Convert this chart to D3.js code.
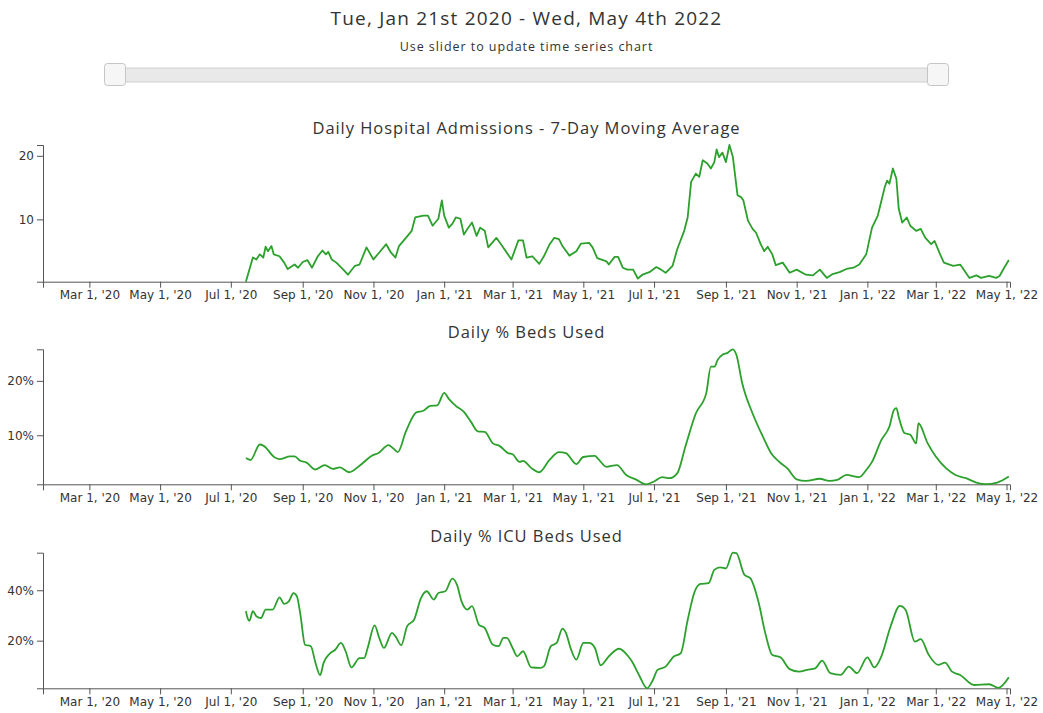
<!DOCTYPE html>
<html>
<head>
<meta charset="utf-8">
<script src="https://cdn.jsdelivr.net/npm/d3@7"></script>
<style>
  html, body { margin: 0; padding: 0; background: #fff; }
  svg { display: block; }
</style>
</head>
<body>
<svg id="chart" width="1043" height="713"></svg>
<script>
// ---------------- DATA ----------------
const headerText = "Tue, Jan 21st 2020 - Wed, May 4th 2022";
const subText = "Use slider to update time series chart";
const domainStart = "2020-01-21";
const domainEnd = "2022-05-04";
const chartTitles = ["Daily Hospital Admissions - 7-Day Moving Average", "Daily % Beds Used", "Daily % ICU Beds Used"];

const admDates = ["2020-07-14","2020-07-20","2020-07-23","2020-07-26","2020-07-29","2020-07-31","2020-08-02","2020-08-05","2020-08-07","2020-08-12","2020-08-16","2020-08-19","2020-08-25","2020-08-28","2020-09-01","2020-09-05","2020-09-09","2020-09-14","2020-09-18","2020-09-21","2020-09-23","2020-09-26","2020-09-30","2020-10-06","2020-10-10","2020-10-16","2020-10-20","2020-10-26","2020-11-01","2020-11-06","2020-11-12","2020-11-16","2020-11-20","2020-11-23","2020-11-29","2020-12-04","2020-12-07","2020-12-14","2020-12-18","2020-12-22","2020-12-27","2020-12-30","2021-01-01","2021-01-05","2021-01-08","2021-01-11","2021-01-15","2021-01-18","2021-01-21","2021-01-25","2021-01-29","2021-02-01","2021-02-05","2021-02-08","2021-02-15","2021-02-19","2021-02-28","2021-03-06","2021-03-10","2021-03-13","2021-03-18","2021-03-24","2021-03-28","2021-04-02","2021-04-06","2021-04-10","2021-04-13","2021-04-19","2021-04-25","2021-04-29","2021-05-06","2021-05-09","2021-05-13","2021-05-21","2021-05-23","2021-05-28","2021-05-31","2021-06-04","2021-06-08","2021-06-13","2021-06-17","2021-06-21","2021-06-27","2021-07-03","2021-07-07","2021-07-11","2021-07-17","2021-07-21","2021-07-27","2021-07-30","2021-08-02","2021-08-06","2021-08-09","2021-08-12","2021-08-16","2021-08-19","2021-08-22","2021-08-24","2021-08-26","2021-08-29","2021-09-01","2021-09-04","2021-09-07","2021-09-11","2021-09-14","2021-09-16","2021-09-20","2021-09-24","2021-09-27","2021-10-01","2021-10-04","2021-10-07","2021-10-11","2021-10-14","2021-10-20","2021-10-26","2021-11-01","2021-11-09","2021-11-15","2021-11-21","2021-11-27","2021-12-02","2021-12-08","2021-12-14","2021-12-20","2021-12-25","2021-12-31","2022-01-05","2022-01-10","2022-01-16","2022-01-18","2022-01-20","2022-01-23","2022-01-26","2022-01-28","2022-01-31","2022-02-04","2022-02-07","2022-02-12","2022-02-16","2022-02-20","2022-02-25","2022-02-28","2022-03-04","2022-03-08","2022-03-16","2022-03-22","2022-03-24","2022-03-30","2022-04-05","2022-04-09","2022-04-16","2022-04-22","2022-04-25","2022-04-29","2022-05-03"];
const admValues = [0.2,4.0,3.7,4.5,4.0,5.7,5.0,5.8,4.5,4.2,3.2,2.2,2.9,2.4,3.3,3.6,2.4,4.2,5.1,4.5,4.9,3.7,3.2,2.1,1.3,2.7,2.9,5.6,3.7,4.8,6.1,4.8,4.0,5.8,7.1,8.2,10.3,10.6,10.6,9.0,10.1,13.0,10.6,8.7,9.3,10.3,10.1,7.6,8.5,9.5,7.4,8.7,8.2,5.6,7.1,6.1,3.7,6.7,6.7,4.0,4.2,3.0,4.2,6.1,7.1,6.9,5.8,4.3,5.0,6.2,6.3,5.6,3.9,3.4,2.9,4.1,4.1,2.4,2.1,2.1,0.7,1.3,1.7,2.5,2.1,1.6,2.7,5.3,8.2,10.3,15.9,17.2,16.7,19.3,18.8,18.0,19.0,21.0,19.8,20.5,19.0,21.7,19.8,13.8,13.5,13.0,9.8,8.5,7.9,6.1,5.0,5.7,4.5,2.8,3.2,1.6,2.1,1.3,1.2,2.1,0.8,1.4,1.7,2.2,2.4,2.9,4.5,8.7,10.6,15.1,16.1,15.6,18.0,16.4,11.7,9.5,10.3,9.0,8.2,8.5,7.1,6.1,6.6,4.8,3.2,2.7,2.9,2.4,0.8,1.2,0.8,1.1,0.8,1.1,2.4,3.6];

const bedDates = ["2020-07-14","2020-07-18","2020-07-26","2020-07-29","2020-08-08","2020-08-12","2020-08-21","2020-08-25","2020-08-30","2020-09-04","2020-09-12","2020-09-20","2020-09-27","2020-10-03","2020-10-11","2020-10-20","2020-11-01","2020-11-05","2020-11-14","2020-11-18","2020-11-22","2020-11-29","2020-12-08","2020-12-14","2020-12-20","2020-12-26","2021-01-01","2021-01-05","2021-01-11","2021-01-18","2021-01-24","2021-01-30","2021-02-05","2021-02-12","2021-02-18","2021-02-25","2021-03-01","2021-03-07","2021-03-10","2021-03-17","2021-03-24","2021-04-02","2021-04-10","2021-04-16","2021-04-25","2021-05-01","2021-05-11","2021-05-14","2021-05-21","2021-05-30","2021-06-07","2021-06-16","2021-06-24","2021-07-01","2021-07-08","2021-07-14","2021-07-21","2021-07-28","2021-08-06","2021-08-15","2021-08-19","2021-08-22","2021-08-25","2021-08-29","2021-09-02","2021-09-07","2021-09-10","2021-09-15","2021-09-24","2021-10-03","2021-10-10","2021-10-17","2021-10-24","2021-11-01","2021-11-09","2021-11-21","2021-11-29","2021-12-06","2021-12-14","2021-12-25","2021-12-31","2022-01-05","2022-01-13","2022-01-20","2022-01-24","2022-01-26","2022-01-28","2022-02-02","2022-02-07","2022-02-12","2022-02-14","2022-02-22","2022-03-01","2022-03-10","2022-03-18","2022-03-27","2022-04-05","2022-04-13","2022-04-23","2022-05-03"];
const bedValues = [5.8,5.45,8.3,8.1,5.9,5.6,6.1,6.1,5.3,5.0,3.7,4.5,3.8,4.1,3.2,4.4,6.4,6.7,8.2,7.6,6.9,10.7,14.2,14.5,15.4,15.5,17.8,16.7,15.4,14.3,12.5,10.7,10.6,8.5,8.0,6.7,6.5,5.1,5.3,4.0,3.2,5.5,6.9,6.7,4.7,6.0,6.2,5.6,4.2,4.5,2.7,1.8,0.98,1.5,2.3,2.1,3.0,7.9,14.0,17.7,22.6,22.6,23.9,24.8,25.1,25.8,24.8,19.6,14.0,9.7,6.7,5.1,3.9,1.9,1.6,2.0,1.6,1.8,2.7,2.3,3.6,5.1,9.1,11.6,14.7,15.0,13.4,10.4,10.1,8.5,12.2,8.5,6.1,3.9,2.7,2.1,1.3,1.0,1.3,2.4];

const icuDates = ["2020-07-14","2020-07-15","2020-07-17","2020-07-20","2020-07-23","2020-07-27","2020-07-31","2020-08-06","2020-08-12","2020-08-16","2020-08-20","2020-08-24","2020-08-27","2020-08-30","2020-09-03","2020-09-08","2020-09-12","2020-09-16","2020-09-19","2020-09-24","2020-09-29","2020-10-04","2020-10-08","2020-10-13","2020-10-20","2020-10-24","2020-10-27","2020-11-02","2020-11-06","2020-11-10","2020-11-17","2020-11-20","2020-11-25","2020-11-30","2020-12-06","2020-12-12","2020-12-17","2020-12-23","2020-12-27","2021-01-02","2021-01-08","2021-01-12","2021-01-16","2021-01-21","2021-01-25","2021-01-31","2021-02-05","2021-02-12","2021-02-17","2021-02-21","2021-02-24","2021-03-01","2021-03-05","2021-03-10","2021-03-17","2021-03-25","2021-03-28","2021-04-03","2021-04-08","2021-04-13","2021-04-16","2021-04-20","2021-04-25","2021-05-01","2021-05-06","2021-05-11","2021-05-16","2021-05-23","2021-06-01","2021-06-08","2021-06-12","2021-06-18","2021-06-25","2021-06-30","2021-07-04","2021-07-11","2021-07-18","2021-07-24","2021-07-30","2021-08-05","2021-08-10","2021-08-17","2021-08-22","2021-08-27","2021-09-01","2021-09-07","2021-09-10","2021-09-17","2021-09-22","2021-09-29","2021-10-05","2021-10-11","2021-10-18","2021-10-26","2021-11-03","2021-11-10","2021-11-17","2021-11-23","2021-11-30","2021-12-09","2021-12-16","2021-12-23","2022-01-01","2022-01-07","2022-01-13","2022-01-21","2022-01-29","2022-02-03","2022-02-11","2022-02-16","2022-02-23","2022-03-03","2022-03-09","2022-03-15","2022-03-22","2022-04-03","2022-04-16","2022-04-24","2022-05-03"];
const icuValues = [31.7,29.7,27.9,31.7,29.7,29.0,32.3,32.3,37.2,34.6,35.6,38.9,37.6,30.3,18.4,17.8,11.2,6.3,11.2,14.7,16.4,19.1,15.8,9.4,13.1,13.1,17.1,26.1,21.1,17.1,23.1,21.7,18.2,25.7,28.3,36.9,39.6,36.3,38.9,39.6,44.6,42.2,35.6,32.3,33.7,26.3,25.0,18.4,17.8,21.1,21.1,17.1,13.8,15.8,9.4,9.2,9.8,17.8,19.1,24.8,23.1,17.1,12.5,19.1,19.1,17.1,10.2,13.8,16.8,14.2,11.7,6.4,1.1,4.4,8.4,9.7,13.7,15.0,28.2,39.4,42.5,42.8,48.1,49.1,48.7,54.9,54.7,46.1,44.8,35.5,22.9,14.3,13.4,8.7,7.7,8.4,9.0,12.1,7.1,6.4,9.7,7.1,13.4,9.4,13.7,25.6,33.8,32.2,19.6,20.6,14.3,10.4,11.3,7.7,6.4,2.4,2.7,1.3,5.5];

// ---------------- DRAW ----------------
const svg = d3.select("#chart");
const parse = d3.timeParse("%Y-%m-%d");
const left = 43, right = 1010;
const cx = (left + right) / 2;

// header
svg.append("text").attr("x", cx).attr("y", 25).attr("text-anchor", "middle")
  .style("font-family", "'Open Sans', sans-serif").style("font-size", "19px").style("letter-spacing", "1.2px").style("fill", "#333")
  .text(headerText);
svg.append("text").attr("x", cx).attr("y", 51).attr("text-anchor", "middle")
  .style("font-family", "'Open Sans', sans-serif").style("font-size", "12.5px").style("letter-spacing", "0.95px").style("fill", "#333")
  .text(subText);

// slider
const sliderScale = d3.scaleTime().domain([parse(domainStart), parse(domainEnd)]).range([115, 938]);
svg.append("rect").attr("x", 106).attr("y", 68).attr("width", 842).attr("height", 14).attr("rx", 3)
  .style("fill", "#e9e9e9").style("stroke", "#cfcfcf").style("stroke-width", 1);
[parse(domainStart), parse(domainEnd)].forEach(d => {
  svg.append("rect").attr("x", sliderScale(d) - 10.5).attr("y", 63.5).attr("width", 21).attr("height", 22).attr("rx", 3)
    .style("fill", "#f6f6f6").style("stroke", "#c5c5c5").style("stroke-width", 1);
});

const x = d3.scaleTime().domain([parse(domainStart), parse(domainEnd)]).range([left, right]);
const tickFmt = d3.timeFormat("%b %-d, '%y");

const series = [
  {dates: admDates, values: admValues, top: 145, bottom: 281.7, fmt: d => d, curve: d3.curveLinear},
  {dates: bedDates, values: bedValues, top: 349.3, bottom: 484.3, fmt: d => d + "%", curve: d3.curveMonotoneX},
  {dates: icuDates, values: icuValues, top: 552.7, bottom: 688.3, fmt: d => d + "%", curve: d3.curveMonotoneX}
];

series.forEach((s, i) => {
  const data = s.dates.map((d, j) => ({date: parse(d), value: s.values[j]}));
  const y = d3.scaleLinear().domain(d3.extent(s.values)).range([s.bottom, s.top]);
  const g = svg.append("g");

  g.append("text").attr("x", cx).attr("y", s.top - 11).attr("text-anchor", "middle")
    .style("font-family", "'Open Sans', sans-serif").style("font-size", "16.5px").style("letter-spacing", "0.95px").style("fill", "#333")
    .text(chartTitles[i]);

  const xa = g.append("g").attr("transform", `translate(0,${s.bottom})`)
    .call(d3.axisBottom(x).ticks(d3.timeMonth.every(2)).tickFormat(tickFmt));
  const ya = g.append("g").attr("transform", `translate(${left},0)`)
    .call(d3.axisLeft(y).ticks(3).tickFormat(s.fmt));
  [xa, ya].forEach(a => {
    a.style("color", "#555");
    a.selectAll("text").style("font-family", "'DejaVu Sans', Verdana, sans-serif").style("font-size", "12px").style("fill", "#333");
  });

  g.append("path").datum(data)
    .attr("d", d3.line().x(d => x(d.date)).y(d => y(d.value)).curve(s.curve))
    .style("fill", "none").style("stroke", "#2ca02c").style("stroke-width", 1.8)
    .style("stroke-linejoin", "round");
});
</script>
</body>
</html>
